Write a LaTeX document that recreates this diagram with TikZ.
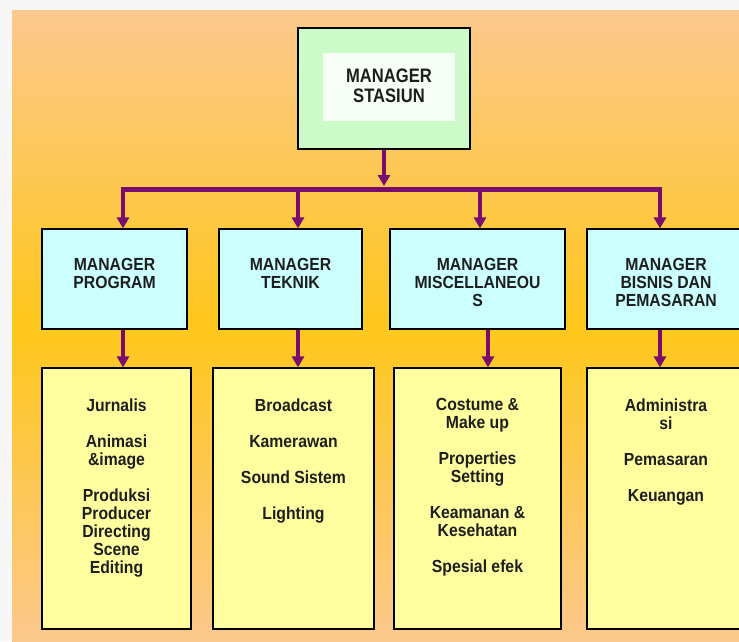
\documentclass[tikz,border=0pt]{standalone}
\usepackage{fontspec}
\setmainfont[FakeStretch=0.9]{Liberation Sans}
\newfontfamily\topfont[FakeStretch=0.85]{Liberation Sans}
\usetikzlibrary{positioning,arrows.meta}

\definecolor{ungu}{RGB}{122,12,112}
\definecolor{peach}{RGB}{251,200,142}
\definecolor{emas}{RGB}{255,200,28}
\definecolor{hijau}{RGB}{204,250,200}
\definecolor{biru}{RGB}{204,255,255}
\definecolor{kuning}{RGB}{255,255,160}
\definecolor{teks}{RGB}{30,30,30}

\tikzset{
    mgr/.style={draw=black,line width=1.2pt,fill=biru,minimum height=100pt,inner sep=0pt},
    jobbox/.style={draw=black,line width=1.2pt,fill=kuning,minimum height=261pt,inner sep=0pt},
    hd/.style={align=center,inner sep=0pt,text=teks,font=\bfseries\fontsize{17.5}{18}\selectfont},
    hdtop/.style={align=center,inner sep=0pt,text=teks,font=\topfont\bfseries\fontsize{19.5}{20}\selectfont},
    link/.style={ungu,line width=3.5pt,-{Triangle[width=12pt,length=11pt]}},
    bus/.style={ungu,line width=5pt}
}

\begin{document}
\begin{tikzpicture}[x=1pt,y=-1pt]
        \useasboundingbox (0,0) rectangle (739,641);
        \clip (0,0) rectangle (739,641);
        % background
        \fill[gray!6] (0,0) rectangle (739,641);
        \shade[top color=peach,bottom color=peach,middle color=emas] (12,10) rectangle (745,645);

        % manager stasiun
        \node[draw=black,line width=1.4pt,fill=hijau,minimum width=172pt,minimum height=121pt,inner sep=0pt] (stasiun) at (384,88.5) {};
        \node[fill=white,fill opacity=0.85,minimum width=132pt,minimum height=68pt,inner sep=0pt] (inner) at (389,87) {};
        \node[hdtop,below=16pt of inner.north] (tstasiun) {MANAGER\\STASIUN};

        % managers
        \node[mgr,minimum width=145pt] (prog) at (114.5,279) {};
        \node[mgr,minimum width=143pt] (tek) at (290.5,279) {};
        \node[mgr,minimum width=175pt] (misc) at (477.5,279) {};
        \node[mgr,minimum width=158pt] (bis) at (666,279) {};
        \node[hd,below=30pt of prog.north] (tprog) {MANAGER\\PROGRAM};
        \node[hd,below=30pt of tek.north] (ttek) {MANAGER\\TEKNIK};
        \node[hd,below=30pt of misc.north] (tmisc) {MANAGER\\MISCELLANEOU\\S};
        \node[hd,below=30pt of bis.north] (tbis) {MANAGER\\BISNIS DAN\\PEMASARAN};

        % staff
        \node[jobbox,minimum width=149pt] (jprog) at (116.5,498.5) {};
        \node[jobbox,minimum width=161pt] (jtek) at (293.5,498.5) {};
        \node[jobbox,minimum width=167pt] (jmisc) at (477.5,498.5) {};
        \node[jobbox,minimum width=158pt] (jbis) at (666,498.5) {};
        \node[hd,below=31pt of jprog.north] (tjprog) {Jurnalis\\[18pt]Animasi\\\&image\\[18pt]Produksi\\Producer\\Directing\\Scene\\Editing};
        \node[hd,below=31pt of jtek.north] (tjtek) {Broadcast\\[18pt]Kamerawan\\[18pt]Sound Sistem\\[18pt]Lighting};
        \node[hd,below=31pt of jmisc.north] (tjmisc) {Costume \&\\Make up\\[18pt]Properties\\Setting\\[18pt]Keamanan \&\\Kesehatan\\[18pt]Spesial efek};
        \node[hd,below=31pt of jbis.north] (tjbis) {Administra\\si\\[18pt]Pemasaran\\[18pt]Keuangan};

        % connectors
        \coordinate (b1) at (123,189);
        \coordinate (b2) at (298,189);
        \coordinate (b3) at (480,189);
        \coordinate (b4) at (660,189);
        \draw[bus] ([xshift=-1.75pt]b1) -- ([xshift=1.75pt]b4);
        \draw[link,shorten >=3pt] (stasiun.south) -- (stasiun.south |- b1);
        \draw[link] (b1) -- (b1 |- prog.north);
        \draw[link] (b2) -- (b2 |- tek.north);
        \draw[link] (b3) -- (b3 |- misc.north);
        \draw[link] (b4) -- (b4 |- bis.north);
        \draw[link] ([xshift=8.5pt]prog.south) -- ([xshift=8.5pt]prog.south |- jprog.north);
        \draw[link] ([xshift=7.5pt]tek.south) -- ([xshift=7.5pt]tek.south |- jtek.north);
        \draw[link] ([xshift=10.5pt]misc.south) -- ([xshift=10.5pt]misc.south |- jmisc.north);
        \draw[link] ([xshift=-6pt]bis.south) -- ([xshift=-6pt]bis.south |- jbis.north);
\end{tikzpicture}
\end{document}
